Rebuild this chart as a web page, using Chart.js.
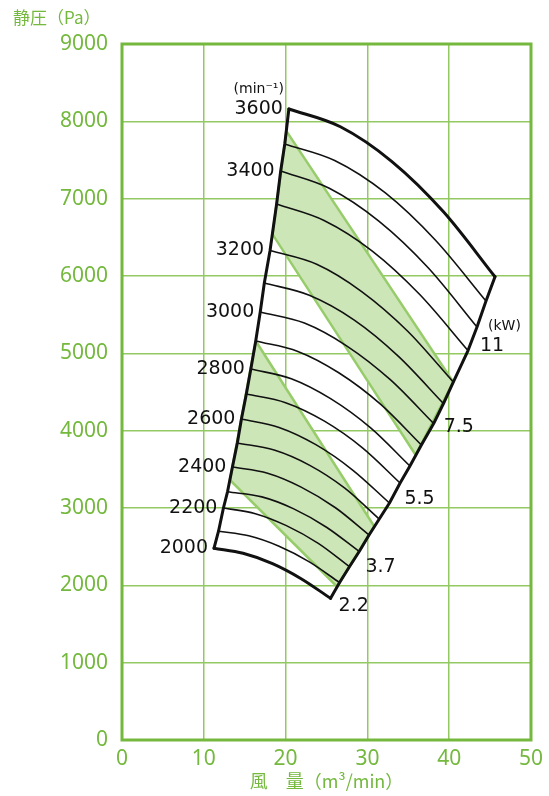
<!DOCTYPE html>
<html>
<head>
<meta charset="utf-8">
<script src="https://cdn.jsdelivr.net/npm/chart.js@4.4.0/dist/chart.umd.min.js"></script>
<style>
  html, body { margin: 0; padding: 0; background: #fff; }
</style>
</head>
<body>
<canvas id="fanChart" width="549" height="796"></canvas>
<script>
// fan speeds (min-1), one curve each
const speeds = [3600, 3500, 3400, 3300, 3200, 3100, 3000, 2900, 2800, 2700, 2600, 2500, 2400, 2300, 2200, 2100, 2000];

// airflow (m3/min) along each speed curve
const flowQ = [
  [20.4, 26.7, 33.0, 39.3, 45.6],
  [19.9, 26.0, 32.2, 38.3, 44.5],
  [19.4, 25.4, 31.4, 37.4, 43.4],
  [18.9, 24.7, 30.6, 36.4, 42.3],
  [18.1, 23.8, 29.3, 34.9, 40.5],
  [17.4, 22.9, 28.4, 33.8, 39.3],
  [16.9, 22.3, 27.5, 32.8, 38.1],
  [16.35, 21.5, 26.5, 31.6, 36.6],
  [15.75, 20.7, 25.5, 30.4, 35.2],
  [15.2, 20.0, 24.7, 29.4, 34.0],
  [14.6, 19.2, 23.7, 28.2, 32.7],
  [14.1, 18.6, 22.9, 27.2, 31.45],
  [13.5, 17.8, 21.9, 26.1, 30.2],
  [12.9, 17.1, 21.0, 25.0, 29.0],
  [12.4, 16.3, 20.1, 24.0, 27.8],
  [11.8, 15.5, 19.2, 22.9, 26.6],
  [11.25, 14.8, 18.4, 21.9, 25.5]
];

// static pressure (Pa) at the same points
const pressP = [
  [8160, 7930, 7480, 6830, 5990],
  [7707, 7494, 7074, 6465, 5676],
  [7357, 7131, 6709, 6109, 5340],
  [6930, 6718, 6322, 5760, 5036],
  [6330, 6152, 5799, 5289, 4629],
  [5909, 5751, 5430, 4961, 4351],
  [5534, 5391, 5094, 4659, 4092],
  [5159, 5025, 4749, 4343, 3814],
  [4797, 4672, 4414, 4036, 3543],
  [4474, 4362, 4126, 3778, 3323],
  [4151, 4042, 3819, 3491, 3064],
  [3840, 3750, 3555, 3260, 2857],
  [3530, 3449, 3270, 3003, 2651],
  [3210, 3144, 2989, 2751, 2437],
  [3000, 2927, 2772, 2542, 2241],
  [2700, 2640, 2505, 2303, 2036],
  [2480, 2414, 2281, 2086, 1832]
];

// speed labels shown on the left edge
const rpmLabels = [3600, 3400, 3200, 3000, 2800, 2600, 2400, 2200, 2000];

// motor power labels and the curve whose end they sit at
const kwLabels = ['11', '7.5', '5.5', '3.7', '2.2'];
const kwAtSpeed = [3300, 3000, 2600, 2200, 2000];

// shaded bands (corners)
const bandUpperQ = [20.1, 40.5, 35.9, 18.4];
const bandUpperP = [7874, 4629, 3685, 6539];
const bandLowerQ = [16.35, 30.85, 26.3, 13.2];
const bandLowerP = [5159, 2760, 1982, 3362];

const green = '#74b83e';
const gridGreen = '#93c962';
const bandFill = '#cde6b8';
const bandEdge = '#97cc6a';

function toPoints(qs, ps, close) {
  const pts = qs.map((q, i) => ({ x: q, y: ps[i] }));
  if (close) pts.push(pts[0]);
  return pts;
}

const datasets = [];

[[bandUpperQ, bandUpperP], [bandLowerQ, bandLowerP]].forEach(b => {
  datasets.push({
    data: toPoints(b[0], b[1], true),
    showLine: true,
    fill: 'shape',
    backgroundColor: bandFill,
    borderColor: bandEdge,
    borderWidth: 2.5,
    pointRadius: 0,
    tension: 0,
    order: 10
  });
});

speeds.forEach((n, i) => {
  const edge = (i === 0 || i === speeds.length - 1);
  datasets.push({
    data: toPoints(flowQ[i], pressP[i], false),
    showLine: true,
    fill: false,
    borderColor: '#111',
    borderWidth: edge ? 3 : 1.6,
    borderCapStyle: 'round',
    pointRadius: 0,
    cubicInterpolationMode: 'monotone',
    order: 1
  });
});

// left and right limits run through the curve ends
datasets.push({
  data: speeds.map((n, i) => ({ x: flowQ[i][0], y: pressP[i][0] })),
  showLine: true, fill: false, borderColor: '#111', borderWidth: 3,
  borderCapStyle: 'round', borderJoinStyle: 'round', pointRadius: 0, tension: 0, order: 0
});
datasets.push({
  data: speeds.map((n, i) => ({ x: flowQ[i][4], y: pressP[i][4] })),
  showLine: true, fill: false, borderColor: '#111', borderWidth: 3,
  borderCapStyle: 'round', borderJoinStyle: 'round', pointRadius: 0, tension: 0, order: 0
});

const framePlugin = {
  id: 'frame',
  beforeDatasetsDraw(chart) {
    const a = chart.chartArea, ctx = chart.ctx;
    ctx.save();
    ctx.strokeStyle = green;
    ctx.lineWidth = 3;
    ctx.strokeRect(a.left, a.top, a.right - a.left, a.bottom - a.top);
    ctx.restore();
  }
};

const textPlugin = {
  id: 'texts',
  afterDraw(chart) {
    const ctx = chart.ctx, xs = chart.scales.x, ys = chart.scales.y;
    ctx.save();
    ctx.fillStyle = '#111';
    ctx.textBaseline = 'middle';

    ctx.font = '19px "DejaVu Sans"';
    ctx.textAlign = 'right';
    rpmLabels.forEach(n => {
      const i = speeds.indexOf(n);
      ctx.fillText(String(n), xs.getPixelForValue(flowQ[i][0]) - 6, ys.getPixelForValue(pressP[i][0]));
    });
    ctx.font = '14px "DejaVu Sans"';
    ctx.fillText('(min⁻¹)', xs.getPixelForValue(flowQ[0][0]) - 5, ys.getPixelForValue(pressP[0][0]) - 20);

    ctx.textAlign = 'left';
    ctx.font = '19px "DejaVu Sans"';
    const offs = [[12, -4], [10, 4], [15, -4], [16, 0], [8, 8]];
    kwLabels.forEach((t, k) => {
      const i = speeds.indexOf(kwAtSpeed[k]);
      const px = xs.getPixelForValue(flowQ[i][4]) + offs[k][0];
      const py = ys.getPixelForValue(pressP[i][4]) + offs[k][1];
      ctx.fillText(t, px, py);
      if (k === 0) {
        ctx.font = '14px "DejaVu Sans"';
        ctx.fillText('(kW)', px + 8, py - 20);
        ctx.font = '19px "DejaVu Sans"';
      }
    });

    ctx.fillStyle = green;
    ctx.font = '17px "Noto Sans CJK JP"';
    ctx.textAlign = 'left';
    ctx.fillText('静圧（Pa）', 13, 18);
    ctx.textAlign = 'center';
    ctx.font = '18px "Noto Sans CJK JP"';
    ctx.fillText('風　量（m³/min）', (chart.chartArea.left + chart.chartArea.right) / 2, 781);
    ctx.restore();
  }
};

const tickFont = { family: '"Noto Sans", sans-serif', size: 21 };

new Chart(document.getElementById('fanChart').getContext('2d'), {
  type: 'scatter',
  data: { datasets: datasets },
  options: {
    responsive: false,
    animation: false,
    layout: { padding: { top: 44, right: 18, left: 0, bottom: 0 } },
    plugins: { legend: { display: false }, tooltip: { enabled: false } },
    scales: {
      x: {
        type: 'linear', min: 0, max: 50,
        ticks: { stepSize: 10, color: green, font: tickFont, padding: 6, callback: v => String(v) },
        grid: { color: gridGreen, lineWidth: 1.5, drawTicks: false },
        border: { display: false },
        afterFit(scale) { scale.height = 56; }
      },
      y: {
        type: 'linear', min: 0, max: 9000,
        ticks: { stepSize: 1000, color: green, font: tickFont, padding: 14, callback: v => String(v) },
        grid: { color: gridGreen, lineWidth: 1.5, drawTicks: false },
        border: { display: false },
        afterFit(scale) { scale.width = 122; }
      }
    }
  },
  plugins: [framePlugin, textPlugin]
});
</script>
</body>
</html>
